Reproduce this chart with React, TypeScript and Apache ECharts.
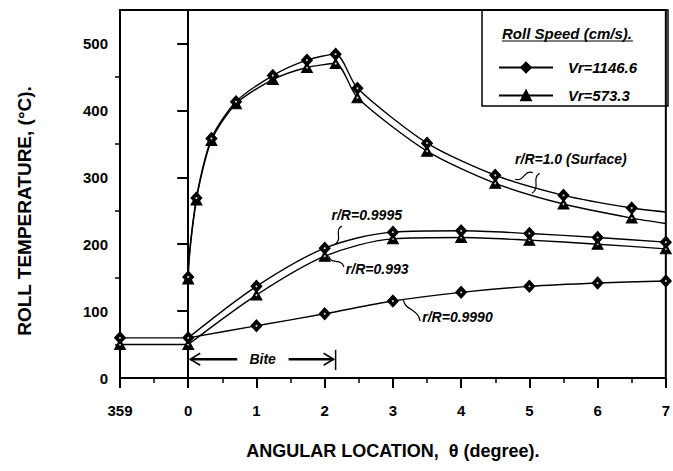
import React, { useEffect, useRef } from "react";
import * as echarts from "echarts";

// ---- data ----
const preTheta = [-1, 0];
const preFast = [60, 60];
const preSlow = [50, 50];

const surfaceTheta = [0, 0, 0.12, 0.34, 0.7, 1.24, 1.74, 2.16, 2.48, 3.5, 4.5, 5.5, 6.5, 7];
const surfaceFast = [60, 151, 269, 358, 413, 452, 475, 484, 433, 351, 303, 273, 254, 248];
const surfaceSlow = [50, 148, 266, 355, 410, 446, 464, 470, 419, 339, 291, 260, 239, 231];

const subTheta = [0, 1, 2, 3, 4, 5, 6, 7];
const sub9995Fast = [60, 137, 194, 218, 220, 216, 210, 203];
const sub993Slow = [50, 124, 182, 208, 210, 206, 200, 193];
const sub9990Fast = [60, 78, 96, 115, 128, 137, 142, 145];

const xTickLabels: Record<number, string> = { [-1]: "359", 0: "0", 1: "1", 2: "2", 3: "3", 4: "4", 5: "5", 6: "6", 7: "7" };
const yMajorTicks = [0, 100, 200, 300, 400, 500];
const yMinorTicks = [50, 150, 250, 350, 450];

const FAST = "Vr=1146.6";
const SLOW = "Vr=573.3";
const FONT = "'Liberation Sans', Arial, sans-serif";

function pts(xs: number[], ys: number[], hide: number[] = []) {
  return xs.map((x, i) =>
    hide.includes(i) ? { value: [x, ys[i]], symbol: "none" } : { value: [x, ys[i]] }
  );
}

function lineSeries(name: string, data: any[], fast: boolean, smooth: number) {
  return {
    type: "line",
    name,
    data,
    smooth,
    symbol: fast ? "diamond" : "triangle",
    symbolSize: fast ? [11, 12] : [11, 10],
    itemStyle: { color: "#000", borderColor: "#000", borderWidth: 1 },
    lineStyle: { color: "#000", width: 1.4 },
    z: fast ? 3 : 2,
  };
}

// small white centres of the markers
function dotSeries(data: any[], size: number, z: number) {
  return {
    type: "scatter",
    data: data.filter((d: any) => !d.symbol).map((d: any) => d.value),
    symbol: "circle",
    symbolSize: size,
    itemStyle: { color: "#fff" },
    silent: true,
    z,
  };
}

export default function App() {
  const ref = useRef<HTMLDivElement>(null);
  useEffect(() => {
    const chart = echarts.init(ref.current!, null, { renderer: "svg" });
    const fastSets = [
      pts(preTheta, preFast),
      pts(surfaceTheta, surfaceFast, [0, surfaceTheta.length - 1]),
      pts(subTheta, sub9995Fast, [0]),
      pts(subTheta, sub9990Fast, [0]),
    ];
    const slowSets = [
      pts(preTheta, preSlow),
      pts(surfaceTheta, surfaceSlow, [0, surfaceTheta.length - 1]),
      pts(subTheta, sub993Slow, [0]),
    ];
    const option: any = {
      animation: false,
      backgroundColor: "#fff",
      grid: { left: 120, right: 5, top: 10, bottom: 93, show: true, borderColor: "#000", borderWidth: 2, backgroundColor: "transparent" },
      legend: {
        data: [FAST, SLOW],
        orient: "vertical",
        left: 493,
        top: 55,
        itemWidth: 54,
        itemHeight: 12,
        itemGap: 13,
        textStyle: { fontFamily: FONT, fontWeight: "bold", fontStyle: "italic", fontSize: 15, color: "#000", padding: [0, 0, 0, 10] },
        selectedMode: false,
      },
      xAxis: {
        type: "value",
        min: -1,
        max: 7,
        interval: 1,
        splitLine: { show: false },
        axisLine: { lineStyle: { color: "#000", width: 2 } },
        axisTick: { length: 10, lineStyle: { color: "#000", width: 2 } },
        minorTick: { show: true, splitNumber: 2, length: 5, lineStyle: { color: "#000", width: 1.5 } },
        axisLabel: {
          margin: 25,
          formatter: (v: number) => xTickLabels[v] ?? "",
          fontFamily: FONT, fontWeight: "bold", fontSize: 15, color: "#000",
        },
        name: "ANGULAR LOCATION,  θ (degree).",
        nameLocation: "middle",
        nameGap: 64,
        nameTextStyle: { fontFamily: FONT, fontWeight: "bold", fontSize: 18, color: "#000" },
      },
      yAxis: [
        {
          type: "value",
          min: 0,
          max: 550,
          interval: 50,
          splitLine: { show: false },
          axisLine: { lineStyle: { color: "#000", width: 2 } },
          axisTick: { length: 11, customValues: yMajorTicks, lineStyle: { color: "#000", width: 2 } },
          axisLabel: {
            margin: 12,
            customValues: yMajorTicks,
            formatter: (v: number) => String(v),
            fontFamily: FONT, fontWeight: "bold", fontSize: 15, color: "#000",
          },
          name: "ROLL TEMPERATURE, (°C).",
          nameLocation: "middle",
          nameGap: 86,
          nameTextStyle: { fontFamily: FONT, fontWeight: "bold", fontSize: 19, color: "#000", padding: [0, 34, 0, 0] },
        },
        {
          type: "value",
          min: 0,
          max: 550,
          interval: 50,
          position: "left",
          splitLine: { show: false },
          axisLine: { show: false },
          axisTick: { length: 5, customValues: yMinorTicks, lineStyle: { color: "#000", width: 1.5 } },
          axisLabel: { show: false },
        },
      ],
      series: [
        lineSeries(SLOW, slowSets[0], false, 0),
        lineSeries(SLOW, slowSets[1], false, 0.25),
        lineSeries(SLOW, slowSets[2], false, 0.3),
        dotSeries(slowSets.flat(), 2, 2.5),
        lineSeries(FAST, fastSets[0], true, 0),
        lineSeries(FAST, fastSets[1], true, 0.25),
        lineSeries(FAST, fastSets[2], true, 0.3),
        lineSeries(FAST, fastSets[3], true, 0.3),
        dotSeries(fastSets.flat(), 2.2, 4),
      ],
    };
    chart.setOption(option);

    const P = (x: number, y: number) => chart.convertToPixel({ gridIndex: 0 } as any, [x, y]) as number[];
    const txt = (x: number, y: number, s: string, size = 14) => {
      const [px, py] = P(x, y);
      return {
        type: "text", x: px, y: py,
        style: { text: s, fontFamily: FONT, fontWeight: "bold", fontStyle: "italic", fontSize: size, fill: "#000", align: "left", verticalAlign: "middle" },
        z: 10,
      };
    };
    const squiggle = (x1: number, y1: number, x2: number, y2: number) => {
      const a = P(x1, y1), b = P(x2, y2);
      const dx = b[0] - a[0], dy = b[1] - a[1];
      const len = Math.hypot(dx, dy) || 1;
      const nx = (-dy / len) * 6, ny = (dx / len) * 6;
      return {
        type: "bezierCurve",
        shape: {
          x1: a[0], y1: a[1], x2: b[0], y2: b[1],
          cpx1: a[0] + dx * 0.35 + nx, cpy1: a[1] + dy * 0.35 + ny,
          cpx2: a[0] + dx * 0.6 - nx, cpy2: a[1] + dy * 0.6 - ny,
        },
        style: { stroke: "#000", lineWidth: 1.2, fill: "none" },
        z: 10,
      };
    };
    const seg = (a: number[], b: number[], w = 1.5) => ({
      type: "line", shape: { x1: a[0], y1: a[1], x2: b[0], y2: b[1] }, style: { stroke: "#000", lineWidth: w }, z: 10,
    });

    // Bite annotation
    const biteStart = 0, biteEnd = 2.16, biteY = 28;
    const l0 = P(biteStart, 42), l1 = P(biteStart, 12);
    const r0 = P(biteEnd, 42), r1 = P(biteEnd, 12);
    const aL = P(biteStart, biteY), aR = P(biteEnd, biteY);
    const textC = P(1.09, biteY);
    const graphics: any[] = [
      seg(l0, l1, 1.5),
      seg(r0, r1, 1.5),
      seg([aL[0] + 2, aL[1]], [aL[0] + 49, aL[1]], 2.5),
      seg([aR[0] - 47, aR[1]], [aR[0] - 2, aR[1]], 2.5),
      { type: "polyline", shape: { points: [[aL[0] + 12, aL[1] - 6], [aL[0] + 2, aL[1]], [aL[0] + 12, aL[1] + 6]] }, style: { stroke: "#000", lineWidth: 1.5, fill: "none" }, z: 10 },
      { type: "polyline", shape: { points: [[aR[0] - 12, aR[1] - 6], [aR[0] - 2, aR[1]], [aR[0] - 12, aR[1] + 6]] }, style: { stroke: "#000", lineWidth: 1.5, fill: "none" }, z: 10 },
      {
        type: "text", x: textC[0], y: textC[1],
        style: { text: "Bite", fontFamily: FONT, fontWeight: "bold", fontStyle: "italic", fontSize: 14, fill: "#000", align: "center", verticalAlign: "middle" },
        z: 10,
      },
      // curve labels
      txt(4.79, 327, "r/R=1.0 (Surface)"),
      squiggle(5.05, 307, 4.79, 297),
      squiggle(5.15, 306, 5.04, 276),
      txt(2.1, 243, "r/R=0.9995"),
      squiggle(2.25, 227, 2.15, 200),
      txt(2.31, 163, "r/R=0.993"),
      squiggle(2.06, 182, 2.28, 166),
      txt(3.43, 91, "r/R=0.9990"),
      squiggle(3.15, 118, 3.4, 85),
      // legend frame and title
      { type: "rect", shape: { x: 482, y: 10, width: 186, height: 96 }, style: { stroke: "#000", lineWidth: 1.5, fill: "none" }, z: 5 },
      {
        type: "text", x: 502, y: 33,
        style: { text: "Roll Speed (cm/s).", fontFamily: FONT, fontWeight: "bold", fontStyle: "italic", fontSize: 15, fill: "#000", align: "left", verticalAlign: "middle" },
        z: 10,
      },
      { type: "line", shape: { x1: 502, y1: 41, x2: 633, y2: 41 }, style: { stroke: "#000", lineWidth: 1.2 }, z: 10 },
    ];
    chart.setOption({ graphic: graphics });
    return () => chart.dispose();
  }, []);
  return <div ref={ref} style={{ position: "fixed", left: 0, top: 0, width: 673, height: 471, background: "#fff" }} />;
}
